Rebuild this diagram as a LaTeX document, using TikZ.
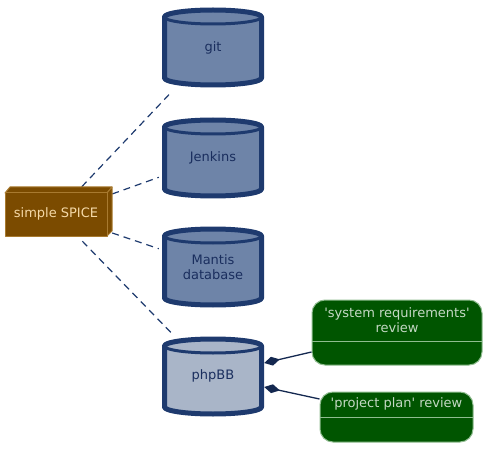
\documentclass[tikz,border=0pt]{standalone}
\usepackage{fontspec}
\newfontfamily\djv{DejaVu Sans}
\usetikzlibrary{arrows.meta,backgrounds}
\definecolor{navy}{HTML}{1E3A6E}
\definecolor{navydark}{HTML}{142850}
\definecolor{navytext}{HTML}{1A2E5E}
\definecolor{cylfill}{HTML}{6E84A8}
\definecolor{cylfillb}{HTML}{A9B5C8}
\definecolor{brownfill}{HTML}{7B4B00}
\definecolor{brownline}{HTML}{A87A30}
\definecolor{browntext}{HTML}{F5D9A8}
\definecolor{greenfill}{HTML}{005500}
\definecolor{greenline}{HTML}{8FBC8F}
\definecolor{greentext}{HTML}{C4D8C4}
\tikzset{
  cylline/.style={draw=navy, line width=5pt, line join=round},
  cylinner/.style={draw=navy, line width=3pt},
  cylnode/.style={minimum width=108pt, minimum height=86pt, inner sep=0pt, align=center, text=navytext, font=\djv\fontsize{13}{15}\selectfont},
  spicenode/.style={minimum width=112pt, minimum height=54pt, inner sep=0pt, text=browntext, font=\djv\fontsize{13}{15}\selectfont},
  brownface/.style={fill=brownfill, draw=brownline, line width=1pt, line join=round},
  greenbox/.style={draw=greenline, fill=greenfill, line width=1pt, rounded corners=13pt, inner sep=0pt},
  greenlabel/.style={text=greentext, align=center, inner sep=0pt, font=\djv\fontsize{13}{14.5}\selectfont},
  sepline/.style={draw=greenline, line width=1pt},
  dep/.style={draw=navy, line width=1.2pt, dash pattern=on 7pt off 5pt},
  comp/.style={draw=navydark, line width=1.3pt, {Diamond[length=16pt,width=9pt]}-},
}
\newcommand\dbcyl[3]{%
  \draw[cylline, fill=#3] (164.5,#1+7) -- (164.5,#2-7)
    arc[start angle=180,end angle=360,x radius=48.5pt,y radius=7pt]
    -- (261.5,#1+7)
    arc[start angle=0,end angle=180,x radius=48.5pt,y radius=7pt] -- cycle;
  \draw[cylinner] (164.5,#1+7) arc[start angle=180,end angle=360,x radius=48.5pt,y radius=7pt];}
\begin{document}
\begin{tikzpicture}[x=1pt,y=-1pt]
\path[use as bounding box] (0,0) rectangle (487,449);
% cylinders
\dbcyl{10}{85}{cylfill}
\dbcyl{120}{196}{cylfill}
\dbcyl{229}{305}{cylfill}
\dbcyl{339}{414}{cylfillb}
% SPICE 3D box
\draw[brownface] (5,193) -- (10,187) -- (112,187) -- (107,193) -- cycle;
\draw[brownface] (107,193) -- (112,187) -- (112,231) -- (107,236) -- cycle;
\draw[brownface] (5,193) rectangle (107,236);
% nodes
\node[spicenode] (spice) at (56,214) {\raisebox{3pt}{simple SPICE}};
\node[cylnode] (git) at (213,48) {git};
\node[cylnode] (jenkins) at (213,158) {Jenkins};
\node[cylnode] (mantis) at (213,267) {Mantis\\database};
\node[cylnode] (php) at (213,376) {phpBB};
% green boxes
\node[greenbox, minimum width=170pt, minimum height=65pt] (sr) at (397,332.5) {};
\draw[sepline] (312,341) -- (482,341);
\node[greenlabel] (srt) at (397,320) {\textquotesingle system requirements\textquotesingle\\review};
\node[greenbox, minimum width=153pt, minimum height=50pt] (pp) at (396.5,417) {};
\draw[sepline] (320,417) -- (473,417);
\node[greenlabel] (ppt) at (396.5,404) {\textquotesingle project plan\textquotesingle{} review};
% connectors
\begin{scope}[on background layer]
\draw[dep] (spice) -- (git);
\draw[dep] (spice) -- (jenkins);
\draw[dep] (spice) -- (mantis);
\draw[dep] (spice) -- (php);
\end{scope}
\draw[comp] ([xshift=-3pt,yshift=13pt]php.east) -- ([yshift=-19.5pt]sr.west);
\draw[comp] ([xshift=-3pt,yshift=-11pt]php.east) -- ([yshift=18pt]pp.west);
\end{tikzpicture}
\end{document}
